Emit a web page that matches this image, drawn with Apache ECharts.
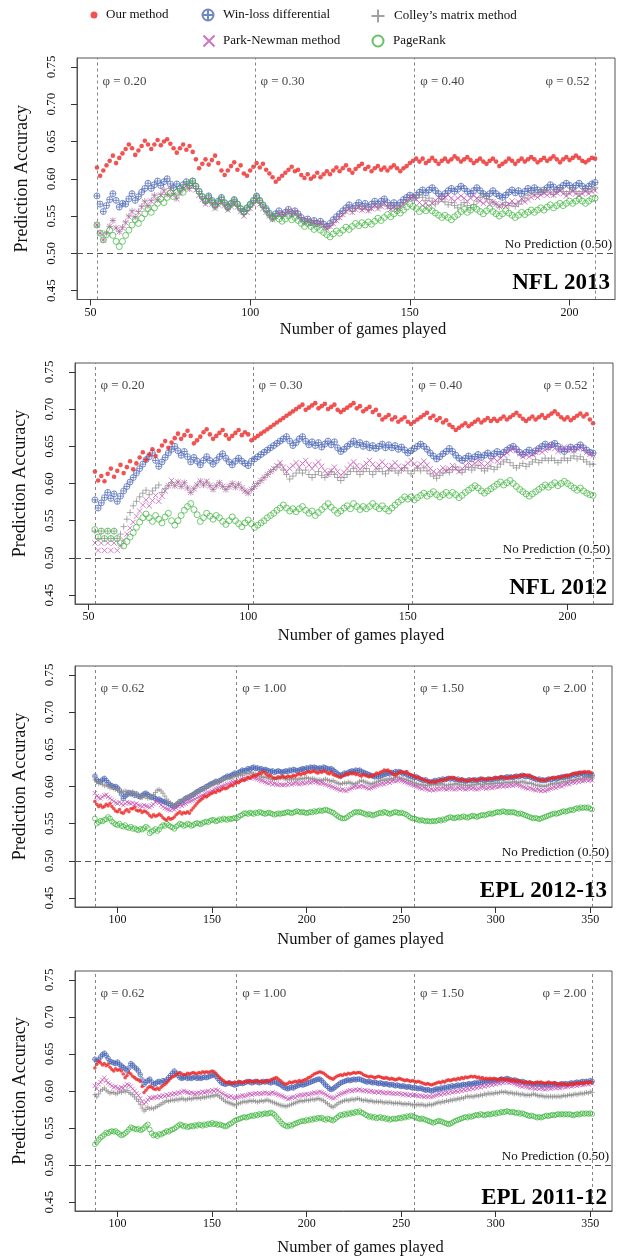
<!DOCTYPE html>
<html><head><meta charset="utf-8">
<script src="https://cdn.jsdelivr.net/npm/echarts@6.0.0/dist/echarts.min.js"></script>
<style>html,body{margin:0;padding:0;background:#fff}#c{width:625px;height:1257px}</style>
</head><body><div id="c"></div>
<script>
// ---------- axis ticks / categories ----------
const nflTicks = [50, 100, 150, 200];
const eplTicks = [100, 150, 200, 250, 300, 350];
const yTicks = [0.45, 0.50, 0.55, 0.60, 0.65, 0.70, 0.75];
const nflFirstGame = 52;
const eplFirstGame = 88;
const nflPhiGames = [52, 101.5, 151.5, 208];
const nflPhiLabels = ['0.20', '0.30', '0.40', '0.52'];
const eplPhiGames = [88, 163, 257, 351];
const eplPhiLabels = ['0.62', '1.00', '1.50', '2.00'];
const methodNames = ['Our method', 'Win-loss differential', 'Colley\u2019s matrix method', 'Park-Newman method', 'PageRank'];

// ---------- NFL 2013 (accuracy x1000, games 52..208) ----------
const nfl13Our = [615,604,611,618,624,631,621,628,634,640,646,641,632,638,644,651,646,640,646,652,645,650,653,647,641,635,641,646,639,644,636,626,614,620,626,619,625,631,621,611,605,611,617,622,612,618,607,604,611,616,621,615,620,612,607,602,596,600,604,608,612,616,610,612,605,601,606,600,603,608,602,606,610,606,611,615,610,614,618,612,608,613,617,620,613,616,610,614,617,612,615,611,615,618,614,610,614,617,621,624,627,623,627,621,624,628,624,620,624,627,623,626,630,627,623,626,629,625,621,624,627,623,620,624,627,623,617,620,623,627,624,620,624,627,623,626,629,626,622,625,628,624,627,630,626,622,626,629,625,628,631,628,624,622,625,628,627];
const nfl13WinLoss = [577,566,556,564,572,580,571,562,567,566,573,580,571,576,582,587,594,587,592,597,591,596,600,593,588,593,587,592,596,591,597,590,583,576,570,577,571,565,570,575,568,562,567,572,566,560,556,561,566,571,577,571,565,560,554,549,553,557,552,555,559,553,557,553,548,543,546,541,544,540,543,539,536,540,545,549,553,557,561,565,560,564,568,563,567,562,566,570,566,570,573,568,564,568,564,568,572,575,578,575,578,582,585,581,585,588,584,580,576,580,584,587,583,586,590,587,583,580,584,588,584,580,577,580,584,580,577,575,578,582,585,581,584,580,583,587,584,588,585,582,585,588,592,589,585,588,591,594,591,588,591,594,590,587,590,593,595];
const nfl13Colley = [538,527,518,527,536,544,534,529,535,542,550,557,549,556,563,570,564,571,578,572,579,585,579,587,580,574,581,587,592,587,594,587,580,574,568,574,568,562,567,572,566,560,565,570,564,558,552,557,562,568,574,568,562,556,551,546,550,554,550,554,558,553,556,551,547,542,545,541,543,539,542,538,534,537,541,545,549,553,557,561,556,560,563,559,562,558,561,565,561,564,568,563,560,563,559,563,567,571,574,577,574,578,575,571,574,570,566,570,573,569,565,568,564,561,565,568,564,561,565,570,575,579,576,572,569,566,562,565,568,564,567,563,566,570,574,578,582,579,582,585,582,585,582,579,583,586,583,580,583,586,583,580,583,586,583,586,588];
const nfl13ParkNewman = [538,527,518,527,536,544,534,529,534,541,549,556,548,555,562,569,563,570,577,571,578,584,578,586,579,573,580,586,591,586,592,585,578,572,566,572,566,560,565,570,564,558,563,568,562,556,550,555,560,566,572,566,560,555,550,545,549,553,549,553,557,552,555,550,546,541,544,540,542,538,541,537,533,536,540,544,548,552,556,560,555,559,562,558,561,557,560,564,560,563,567,562,559,562,558,562,566,570,573,576,572,568,564,567,563,567,571,575,571,575,578,574,570,574,577,574,570,574,577,574,570,567,570,566,569,566,563,566,563,566,570,566,569,573,569,572,575,578,575,578,581,578,581,578,581,584,580,577,580,583,580,577,580,583,580,583,584];
const nfl13PageRank = [538,527,518,525,531,524,516,509,516,524,531,538,545,540,547,553,560,555,561,567,573,568,575,581,576,582,587,582,589,594,597,590,583,576,570,575,569,563,568,573,567,561,566,571,566,560,555,560,565,570,576,570,564,558,552,547,550,546,543,546,550,545,548,544,540,536,540,536,532,535,531,528,525,522,526,530,527,531,535,532,536,540,537,541,538,542,539,543,547,544,548,552,549,553,557,554,558,562,566,563,560,556,560,557,561,557,554,551,548,551,548,545,549,552,556,559,555,558,562,559,556,553,557,560,556,553,550,553,557,554,551,548,551,555,552,555,558,555,558,561,558,562,565,561,564,567,564,567,570,567,570,573,570,567,570,573,574];

// ---------- NFL 2012 ----------
const nfl12Our = [616,604,610,603,613,620,609,617,625,614,622,630,619,627,635,642,632,639,646,637,644,651,657,648,655,661,667,660,665,671,664,654,658,663,669,673,666,660,664,668,672,665,660,664,668,672,665,669,666,658,661,664,667,670,673,676,679,682,685,688,691,694,697,700,703,706,699,702,705,708,701,704,707,700,703,706,699,696,699,702,705,708,701,704,697,700,703,696,699,692,686,689,692,686,689,683,686,689,683,680,683,686,689,692,695,688,691,685,688,682,685,679,676,672,675,678,681,677,680,683,686,682,685,688,684,687,684,687,690,686,689,692,695,691,687,684,687,690,686,689,692,688,691,694,697,693,689,686,689,685,688,691,694,690,693,686,681];
const nfl12WinLoss = [578,567,574,581,588,580,586,576,583,590,596,602,608,614,620,626,632,636,641,631,623,629,635,641,646,650,644,638,643,636,629,635,630,625,631,636,631,626,631,636,640,634,629,625,630,634,630,627,624,630,633,636,639,642,645,648,651,654,657,660,663,657,651,655,660,663,657,652,656,651,655,649,653,657,652,656,648,643,646,650,653,657,652,655,650,653,648,651,647,650,653,648,652,648,651,646,649,645,641,644,647,650,653,650,646,641,637,633,636,640,643,647,643,638,634,631,634,637,633,636,639,635,638,641,637,640,643,639,642,645,648,650,646,642,639,642,645,641,644,647,650,653,649,652,654,650,646,643,646,649,646,649,652,648,645,642,641];
const nfl12Colley = [536,526,536,526,536,526,536,526,532,542,552,561,570,576,582,587,591,585,590,594,598,588,593,597,601,597,602,596,601,594,588,593,598,603,598,602,597,592,597,601,596,592,596,600,595,599,594,590,587,592,596,600,604,608,612,616,619,622,625,618,612,606,610,614,618,614,618,612,608,612,616,611,608,612,616,612,608,604,608,612,616,620,616,612,616,620,616,612,616,620,616,613,617,620,617,614,618,621,617,613,617,621,617,621,617,613,610,607,611,614,618,615,619,622,618,615,619,622,618,621,624,620,617,620,623,619,622,626,629,632,628,624,621,624,627,623,626,629,632,628,631,634,631,634,631,628,631,634,631,634,637,633,636,632,629,626,626];
const nfl12ParkNewman = [520,510,520,510,520,510,520,510,517,524,532,540,548,556,563,571,578,570,577,584,576,583,590,597,604,597,602,596,601,594,588,593,598,603,598,603,597,592,597,601,596,592,596,600,595,599,594,590,587,592,596,600,604,608,612,616,620,624,628,622,616,620,624,628,622,627,631,625,620,625,629,623,617,612,617,622,616,611,615,620,625,629,624,619,623,627,631,626,621,625,629,624,620,624,628,623,619,623,627,631,626,622,626,630,625,620,616,613,617,621,617,620,624,620,616,620,624,628,624,627,631,627,623,627,631,634,630,634,638,641,645,648,644,640,636,639,636,639,642,646,642,645,648,651,647,643,646,649,645,648,644,647,650,646,642,639,638];
const nfl12PageRank = [538,528,536,526,536,526,536,526,520,516,522,528,534,541,548,554,559,554,549,557,552,547,555,560,550,544,550,557,564,569,573,565,558,549,554,560,556,552,557,554,549,545,550,555,550,546,542,547,551,546,541,544,547,550,554,557,560,564,567,571,567,563,566,562,566,569,564,560,563,557,561,565,569,573,568,564,560,563,567,570,566,573,569,565,569,566,569,573,569,566,570,566,563,567,571,575,578,582,579,582,578,581,584,587,583,586,589,585,582,585,588,584,588,585,581,584,588,591,594,597,594,590,587,590,593,596,599,602,598,601,604,600,596,592,589,586,583,586,589,592,595,598,595,598,601,597,600,603,600,597,594,591,594,590,587,585,584];

// ---------- EPL 2012-13 (games 88..351) ----------
const epl13Our = [580,576,573,575,572,573,576,574,577,573,570,567,566,569,565,564,567,569,566,570,570,572,568,567,568,565,567,566,564,561,559,562,560,561,563,561,558,556,555,558,556,557,559,562,564,566,563,565,564,566,564,568,571,574,577,580,582,584,587,586,588,590,591,593,592,595,594,596,598,597,598,600,602,601,604,606,605,607,609,608,610,612,611,613,615,614,616,618,617,620,618,616,614,615,612,611,611,613,612,614,613,612,614,613,613,615,614,616,617,616,618,617,619,620,619,620,621,619,618,620,619,621,620,618,617,619,616,615,614,613,612,614,615,617,616,618,617,618,616,617,615,614,616,615,614,613,615,614,616,618,617,619,620,622,621,622,620,618,616,615,617,619,620,619,618,620,617,616,615,614,612,613,611,610,609,608,607,606,606,607,605,607,608,609,608,610,609,611,612,611,612,610,609,608,610,609,608,607,608,609,610,609,608,609,610,611,610,609,610,611,610,611,612,611,612,613,612,612,611,612,613,612,614,613,614,615,614,616,615,614,615,613,612,611,610,609,608,609,608,609,610,611,612,611,612,613,612,613,614,615,614,615,616,617,618,617,619,618,619,620,619,620,619,618];
const epl13WinLoss = [614,609,607,606,609,611,608,605,602,601,599,600,598,595,590,584,587,589,592,590,591,588,590,587,586,588,590,591,589,587,585,586,584,582,583,581,580,579,578,577,575,574,573,575,577,580,579,582,584,585,586,588,589,591,593,594,596,597,598,600,601,603,604,605,607,606,608,609,611,612,614,613,615,616,618,617,619,620,622,621,622,624,623,625,626,624,625,623,624,622,623,622,621,620,621,619,620,621,620,619,620,621,620,622,621,623,622,621,622,623,624,623,625,624,626,625,626,625,624,625,624,626,625,624,623,624,622,620,618,616,615,616,618,617,619,620,621,620,622,621,622,620,619,618,617,616,615,614,613,614,613,614,615,616,617,618,617,619,618,620,619,620,619,617,618,616,615,614,613,612,613,611,610,609,608,609,607,606,606,607,608,607,609,608,610,609,610,611,610,611,610,609,610,608,609,608,607,608,609,608,608,609,608,609,610,609,608,609,610,609,609,610,611,610,611,612,611,612,613,612,613,612,613,614,613,614,615,614,613,614,613,612,611,610,609,610,608,609,608,609,610,609,610,611,610,611,612,613,612,613,614,613,615,616,615,617,616,618,617,616,617,616,615,615];
const epl13Colley = [609,606,604,605,603,601,602,600,598,599,597,596,595,594,592,593,594,593,591,592,593,591,589,588,586,585,587,586,584,585,587,589,592,595,596,594,591,587,583,580,578,576,575,577,578,580,581,583,585,586,587,588,590,591,592,594,595,596,598,599,600,601,603,604,605,606,607,608,609,610,611,612,611,613,614,613,615,616,615,617,618,617,618,619,617,616,615,614,613,612,613,612,611,610,609,610,611,610,611,612,611,610,609,610,609,611,610,609,610,611,610,611,612,611,610,611,610,609,608,609,608,609,610,609,608,607,608,606,605,604,603,604,605,604,606,605,604,603,604,605,607,608,607,606,605,604,603,604,605,606,607,608,609,608,610,609,611,610,611,612,613,612,611,610,609,610,608,607,606,605,604,603,602,603,602,601,602,601,602,603,602,603,602,604,603,602,601,602,603,602,603,604,603,602,603,602,601,602,601,602,603,602,603,604,603,602,603,604,603,604,603,604,605,604,605,604,605,606,605,606,605,606,607,606,605,606,607,606,605,604,605,604,603,602,601,602,600,601,600,601,602,603,604,603,605,604,605,606,607,606,607,608,609,608,609,610,611,610,611,612,613,612,613,612];
const epl13ParkNewman = [591,587,585,584,586,588,589,586,584,582,580,578,577,579,577,575,577,579,578,577,578,576,577,575,574,573,575,574,573,572,574,576,579,581,578,575,573,571,570,569,568,570,569,571,573,575,574,576,577,579,580,581,582,583,585,586,587,588,590,591,592,593,594,596,597,598,599,600,601,602,603,604,605,606,607,606,608,609,610,611,610,612,611,613,612,611,610,609,608,607,606,605,604,605,603,604,603,602,603,602,602,603,602,604,603,604,605,604,603,604,605,604,605,606,605,606,607,606,605,604,605,604,603,602,601,600,599,598,597,596,595,596,595,594,596,597,598,599,600,599,600,601,600,599,598,597,598,599,600,601,602,603,604,603,605,606,605,607,608,607,608,609,608,607,606,605,604,603,602,601,600,599,598,597,598,597,596,595,596,595,596,597,596,597,598,597,596,597,598,597,596,597,598,597,598,597,596,597,598,597,598,597,596,597,598,599,598,597,598,599,598,599,600,599,600,601,600,601,600,601,602,601,602,603,602,601,600,599,598,597,598,597,596,595,596,595,594,595,594,595,596,597,598,599,598,600,601,600,602,603,604,603,605,606,605,607,606,608,607,608,609,608,609,608];
const epl13PageRank = [557,550,552,554,553,555,556,559,557,553,551,549,548,550,547,546,548,545,544,546,543,544,542,541,543,542,544,546,544,537,539,541,543,540,542,546,548,547,550,548,546,545,543,546,548,550,549,547,548,550,549,547,548,550,551,550,549,551,552,553,552,554,555,555,553,554,556,555,557,556,555,557,556,557,558,557,559,561,562,564,564,563,565,564,563,565,564,566,565,564,563,564,565,564,563,562,563,564,563,564,564,565,566,565,564,565,566,567,566,565,566,565,564,565,566,565,567,566,567,568,567,568,569,568,567,566,565,563,561,559,558,557,557,558,560,562,563,565,566,565,566,565,564,563,562,563,562,561,562,563,564,565,564,566,565,564,563,564,565,566,565,564,565,564,563,562,560,558,557,557,556,555,554,555,554,553,554,553,553,554,553,554,555,554,556,555,557,558,559,558,557,558,559,558,559,560,559,558,559,560,561,560,559,560,561,562,561,562,563,564,563,564,565,566,565,566,567,566,565,566,565,566,565,564,563,564,563,562,561,560,559,558,557,558,557,556,557,558,559,560,561,562,563,564,563,564,565,566,567,566,567,568,569,568,570,571,570,572,571,572,571,572,570,569];

// ---------- EPL 2011-12 ----------
const epl12Our = [631,636,640,638,635,637,634,636,632,629,627,630,628,629,627,623,618,621,625,623,620,618,616,615,613,606,598,601,604,606,605,603,602,604,602,605,607,609,611,614,617,619,620,622,624,625,623,622,622,624,623,624,625,624,623,625,624,626,625,626,625,626,627,626,624,621,618,616,614,612,611,612,610,611,612,611,613,612,611,612,613,612,614,613,612,613,614,612,613,612,613,614,613,615,616,617,618,616,614,612,610,609,610,612,611,612,613,612,614,613,614,615,616,618,619,621,623,624,625,626,625,624,622,620,618,617,616,618,620,621,622,621,623,622,624,623,624,625,624,625,625,624,622,621,620,619,620,619,618,619,620,619,618,617,618,617,616,617,616,615,616,617,616,615,614,615,614,613,614,613,612,613,612,611,610,609,610,609,608,609,610,611,612,611,613,612,614,615,614,615,616,615,617,616,618,617,619,618,619,620,619,620,618,619,617,618,616,617,616,617,616,617,616,615,616,617,616,615,616,615,614,615,614,613,614,613,612,611,612,611,612,611,610,611,612,611,612,611,610,611,612,611,610,611,610,609,610,609,610,609,608,609,610,609,610,611,610,611,610,611,612,611,612,611];
const epl12WinLoss = [643,640,642,646,649,651,648,644,640,639,638,637,639,636,634,632,630,627,631,637,635,632,630,627,622,615,609,612,614,616,612,609,610,612,613,611,614,613,615,618,621,624,627,624,621,618,617,618,619,617,618,617,618,619,617,618,617,618,619,618,619,620,621,622,620,617,614,611,610,609,610,611,610,609,608,609,610,611,610,611,612,613,612,611,612,613,612,611,612,613,612,613,612,611,612,613,611,610,609,607,605,604,603,604,605,604,606,607,608,609,608,609,610,611,612,613,614,615,616,616,614,611,608,606,603,602,603,605,607,609,611,612,613,614,615,614,615,616,615,616,616,615,614,613,612,613,612,611,612,611,610,611,610,609,610,609,608,609,608,607,608,607,606,607,606,605,606,605,604,605,604,603,604,603,602,601,602,601,600,601,602,603,602,604,603,605,604,606,605,607,606,607,608,607,608,609,608,609,610,609,610,611,610,612,611,612,613,612,614,613,614,613,615,614,615,616,615,616,617,616,615,614,615,614,613,612,613,612,611,610,611,610,609,610,609,610,609,608,609,608,609,608,609,610,609,608,609,610,609,610,609,610,611,610,611,612,611,612,613,612,613,612,614,613];
const epl12Colley = [595,592,596,600,602,604,601,599,597,598,598,596,597,599,598,600,599,601,598,596,595,592,589,586,582,577,573,575,578,576,577,576,578,579,581,582,584,585,587,586,587,588,587,589,588,589,590,589,588,589,590,589,590,591,590,591,590,592,591,592,593,592,594,593,595,594,592,590,588,586,585,584,583,582,581,582,583,584,585,586,585,586,587,586,587,586,585,586,587,586,587,588,587,586,585,584,583,582,581,580,580,579,580,581,582,583,584,585,586,587,586,587,588,587,588,589,588,589,590,589,588,587,585,583,581,579,578,580,582,584,585,586,587,588,587,588,589,588,589,590,589,588,587,588,587,586,587,586,585,586,585,586,585,584,585,584,585,584,583,584,583,584,583,582,583,582,583,582,581,582,581,582,581,582,581,580,581,582,581,582,583,584,585,584,586,585,587,586,588,587,589,588,590,589,591,590,592,593,592,593,592,593,594,593,595,594,596,595,597,596,597,596,598,597,598,599,598,599,598,597,598,597,596,597,596,595,596,595,594,595,594,595,596,595,594,593,594,593,592,593,592,593,592,593,592,593,592,593,594,593,594,595,594,595,596,595,596,597,596,597,598,597,599,598];
const epl12ParkNewman = [607,603,609,612,615,618,614,611,609,607,605,606,604,603,605,604,607,609,608,606,603,600,597,594,590,586,582,585,588,591,590,591,592,591,593,592,594,593,595,594,596,595,597,596,598,597,599,600,599,598,597,598,597,596,597,598,597,599,598,599,600,599,601,600,602,601,599,597,596,594,593,592,593,591,590,591,592,593,594,593,594,595,596,595,596,597,596,597,596,597,598,597,596,597,598,597,596,595,594,593,592,591,589,590,591,592,591,593,594,595,594,595,596,595,596,597,598,597,598,599,598,597,595,594,592,591,590,591,593,595,596,597,598,599,600,601,600,601,602,601,602,601,600,601,600,599,600,599,598,599,598,599,598,597,598,597,598,597,596,597,596,597,596,595,596,595,594,595,594,595,594,593,594,593,592,593,592,593,592,593,594,595,596,595,597,596,598,597,599,598,599,600,599,601,600,602,601,603,602,604,603,605,604,606,605,607,606,608,607,609,608,610,609,611,610,612,611,613,612,611,612,611,610,609,608,607,606,607,606,605,604,605,604,603,604,603,604,603,602,603,604,603,604,605,604,605,604,605,606,605,606,607,606,607,608,607,608,609,608,609,610,609,611,610];
const epl12PageRank = [528,531,534,537,539,541,544,543,545,546,545,546,544,542,540,541,543,545,548,551,550,549,548,549,547,548,550,553,555,548,543,540,541,539,542,541,543,544,546,545,547,548,549,551,553,555,554,552,553,551,552,553,552,554,553,555,554,553,555,554,556,555,557,555,556,554,555,554,553,552,553,555,556,558,560,561,562,563,564,565,564,565,566,567,566,568,567,569,568,569,570,569,570,571,570,568,565,562,559,556,554,553,552,554,553,555,556,557,558,559,560,559,561,560,562,561,563,562,564,563,564,562,561,563,562,561,560,562,564,566,568,567,569,568,570,569,571,570,572,571,573,571,570,568,567,565,566,564,565,563,564,565,563,564,562,563,561,562,563,562,563,564,563,565,564,566,565,567,566,565,564,563,562,563,562,561,560,559,558,557,558,559,560,559,558,557,556,555,556,557,559,560,561,562,563,564,565,564,566,565,566,567,568,567,569,568,567,568,569,568,569,570,569,571,570,572,571,572,573,572,571,572,571,570,571,569,570,569,568,567,566,567,566,565,564,565,564,565,566,567,566,567,568,567,568,569,568,569,568,569,568,569,568,567,568,569,568,569,570,569,570,569,570,569];

// ---------- panels ----------
const SERIF = "'Liberation Serif', 'Times New Roman', serif";
const panels = [
  {label:'NFL 2013', top:58, height:241.5, left:77, right:10, xMin:45.76, xMax:214.24, ticks:nflTicks, first:nflFirstGame,
   phiX:nflPhiGames, phiT:nflPhiLabels, xNameGap:22, labTop:272, labRight:15, big:true,
   d:[nfl13Our, nfl13WinLoss, nfl13Colley, nfl13ParkNewman, nfl13PageRank]},
  {label:'NFL 2012', top:363, height:241, left:75, right:12, xMin:45.76, xMax:214.24, ticks:nflTicks, first:nflFirstGame,
   phiX:nflPhiGames, phiT:nflPhiLabels, xNameGap:23, labTop:577, labRight:18, big:true,
   d:[nfl12Our, nfl12WinLoss, nfl12Colley, nfl12ParkNewman, nfl12PageRank]},
  {label:'EPL 2012-13', top:666, height:241, left:75, right:13, xMin:77.48, xMax:361.52, ticks:eplTicks, first:eplFirstGame,
   phiX:eplPhiGames, phiT:eplPhiLabels, xNameGap:24, labTop:880, labRight:18, big:false,
   d:[epl13Our, epl13WinLoss, epl13Colley, epl13ParkNewman, epl13PageRank]},
  {label:'EPL 2011-12', top:971, height:241, left:75, right:13, xMin:77.48, xMax:361.52, ticks:eplTicks, first:eplFirstGame,
   phiX:eplPhiGames, phiT:eplPhiLabels, xNameGap:28, labTop:1187, labRight:18, big:false,
   d:[epl12Our, epl12WinLoss, epl12Colley, epl12ParkNewman, epl12PageRank]}
];

// marker styles: index matches methodNames
const CIRCPLUS = 'path://M0,10A10,10,0,1,1,20,10A10,10,0,1,1,0,10ZM10,0L10,20M0,10L20,10';
const PLUS = 'path://M10,0L10,20M0,10L20,10';
const CROSS = 'path://M0,0L20,20M20,0L0,20';
const RING = 'path://M0,10A10,10,0,1,1,20,10A10,10,0,1,1,0,10Z';
const styles = [
  {symbol:'circle', color:'#EE2828', fill:true, nfl:4.6, epl:3.6},
  {symbol:CIRCPLUS, color:'#4C68B6', nfl:6, epl:4.6},
  {symbol:PLUS, color:'#8A8A8A', nfl:6.5, epl:5},
  {symbol:CROSS, color:'#C450B2', nfl:5.4, epl:4.4},
  {symbol:RING, color:'#3DB53D', nfl:6, epl:4.8}
];
const drawOrder = [1, 2, 3, 4, 0];

const grids = [], xAxes = [], yAxes = [], series = [], titles = [];
panels.forEach((p, pi) => {
  grids.push({left:p.left, right:p.right, top:p.top, height:p.height, show:true, borderColor:'#555', borderWidth:1, backgroundColor:'transparent'});
  xAxes.push({type:'value', gridIndex:pi, min:p.xMin, max:p.xMax, splitLine:{show:false},
    axisLine:{show:true, onZero:false, lineStyle:{color:'#555'}},
    axisTick:{show:true, length:6, customValues:p.ticks, lineStyle:{color:'#333'}},
    axisLabel:{show:true, customValues:p.ticks, margin:7, fontFamily:SERIF, fontSize:12, color:'#111'},
    name:'Number of games played', nameLocation:'middle', nameGap:p.xNameGap,
    nameTextStyle:{fontFamily:SERIF, fontSize:16.5, color:'#111', padding:[0,0,0,34]}});
  yAxes.push({type:'value', gridIndex:pi, min:0.438, max:0.762, splitLine:{show:false},
    axisLine:{show:true, onZero:false, lineStyle:{color:'#555'}},
    axisTick:{show:true, length:6, customValues:yTicks, lineStyle:{color:'#333'}},
    axisLabel:{show:true, customValues:yTicks, rotate:90, margin:19, formatter:v => v.toFixed(2), fontFamily:SERIF, fontSize:13, color:'#111'},
    name:'Prediction Accuracy', nameLocation:'middle', nameRotate:90, nameGap:46,
    nameTextStyle:{fontFamily:SERIF, fontSize:18, color:'#111'}});
  drawOrder.forEach(mi => {
    const st = styles[mi];
    series.push({type:'scatter', name:methodNames[mi], xAxisIndex:pi, yAxisIndex:pi, silent:true,
      symbol:st.symbol, symbolSize:p.big ? st.nfl : st.epl,
      itemStyle: st.fill ? {color:st.color} : {color:'rgba(0,0,0,0)', borderColor:st.color, borderWidth:0.9},
      data:p.d[mi].map((v, i) => [p.first + i, v / 1000])});
  });
  const last = p.phiX.length - 1;
  series.push({type:'scatter', name:'_ref' + pi, xAxisIndex:pi, yAxisIndex:pi, silent:true, symbolSize:1,
    itemStyle:{color:'rgba(0,0,0,0)'},
    data:p.phiX.map((x, i) => ({value:[x, 0.731], name:'\u03C6 = ' + p.phiT[i], label:{position: i === last ? 'left' : 'right'}})),
    label:{show:true, formatter:'{b}', distance:5, fontFamily:SERIF, fontSize:13, color:'#111'},
    markLine:{silent:true, symbol:['none','none'], animation:false,
      data:[...p.phiX.map(x => ({xAxis:x, lineStyle:{type:[3,3], color:'#777', width:0.9}, label:{show:false}})),
        {yAxis:0.5, lineStyle:{type:[6,4], color:'#555', width:1.1},
         label:{show:true, position:'insideEndTop', formatter:'No Prediction (0.50)', distance:[3,2], fontFamily:SERIF, fontSize:13, color:'#111'}}]}});
  titles.push({text:p.label, right:p.labRight, top:p.labTop, padding:0,
    textStyle:{fontFamily:SERIF, fontSize:23, fontWeight:'bold', color:'#000'}});
});

function legendFor(name, cx, tx, cy, sz) {
  const left = cx - sz / 2;
  return {data:[name], left:left, top:cy - Math.max(sz, 14) / 2, itemWidth:sz, itemHeight:sz, padding:0,
    selectedMode:false, textStyle:{fontFamily:SERIF, fontSize:13, color:'#111', padding:[0,0,0, tx - (left + sz + 5)]}};
}
const legends = [
  legendFor(methodNames[0], 94, 106, 15.5, 7),
  legendFor(methodNames[1], 207, 222, 15.5, 11),
  legendFor(methodNames[2], 377, 393, 15.5, 13),
  legendFor(methodNames[3], 208, 222, 41.5, 11),
  legendFor(methodNames[4], 377, 392, 41.5, 11)
];

const chart = echarts.init(document.getElementById('c'), null, {renderer:'canvas'});
chart.setOption({animation:false, backgroundColor:'#fff', title:titles, legend:legends,
  grid:grids, xAxis:xAxes, yAxis:yAxes, series:series});
</script>
</body></html>
